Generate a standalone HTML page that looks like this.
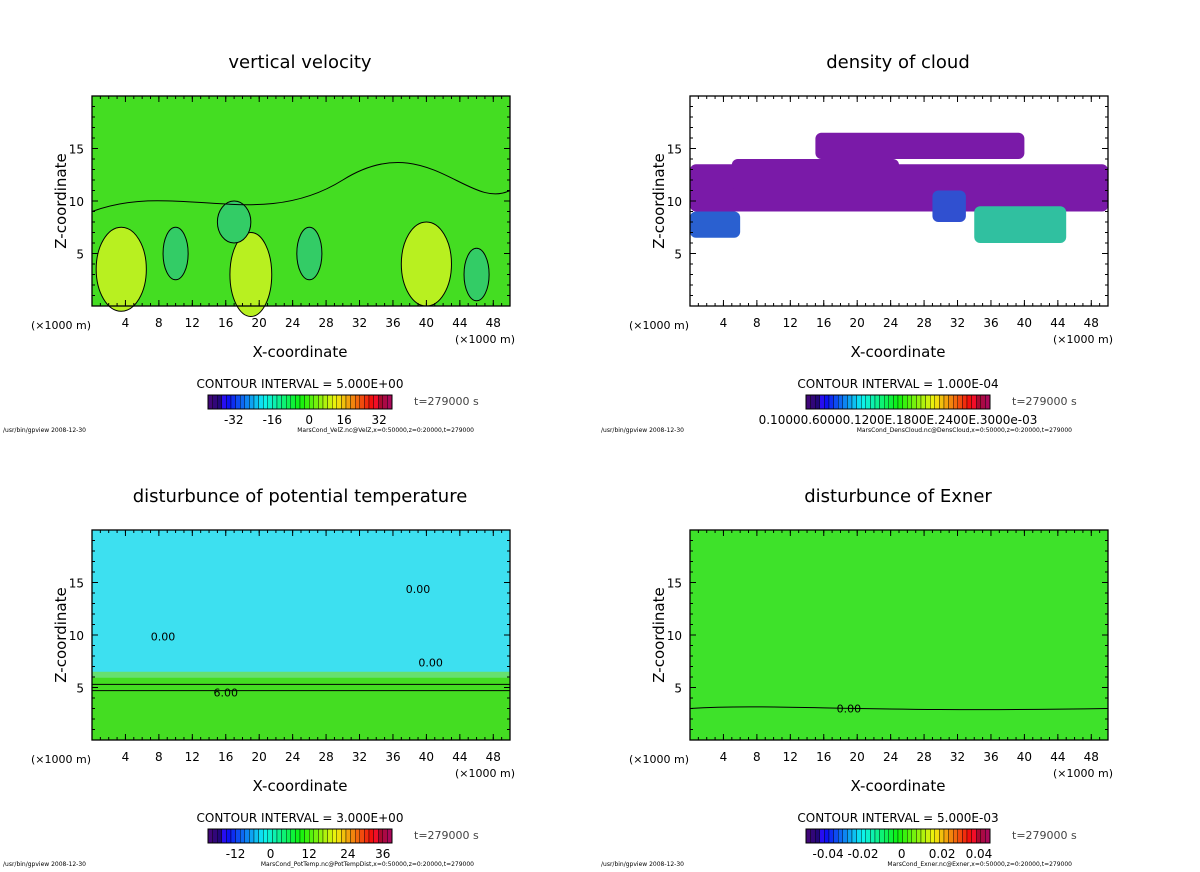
<!DOCTYPE html>
<html><head><meta charset="utf-8"><style>
body{margin:0;background:#fff;width:1200px;height:868px;overflow:hidden;font-family:"DejaVu Sans","Liberation Sans",sans-serif}
svg text{font-family:"DejaVu Sans","Liberation Sans",sans-serif}
</style></head><body>
<svg id="s" width="1200" height="868" xmlns="http://www.w3.org/2000/svg"></svg>
<script>
const xTicks=[4,8,12,16,20,24,28,32,36,40,44,48];
const zTicks=[5,10,15];
const titles=["vertical velocity","density of cloud","disturbunce of potential temperature","disturbunce of Exner"];
const intervals=["CONTOUR INTERVAL = 5.000E+00","CONTOUR INTERVAL = 1.000E-04","CONTOUR INTERVAL = 3.000E+00","CONTOUR INTERVAL = 5.000E-03"];
const cbLabels=[["-32","-16","0","16","32"],["0.10000.60000.1200E.1800E.2400E.3000e-03"],["-12","0","12","24","36"],["-0.04","-0.02","0","0.02","0.04"]];
const cbLabelPos=[[0.14,0.35,0.55,0.74,0.93],[0.5],[0.15,0.34,0.55,0.76,0.95],[0.12,0.31,0.52,0.74,0.94]];
const files=["MarsCond_VelZ.nc@VelZ,x=0:50000,z=0:20000,t=279000","MarsCond_DensCloud.nc@DensCloud,x=0:50000,z=0:20000,t=279000","MarsCond_PotTemp.nc@PotTempDist,x=0:50000,z=0:20000,t=279000","MarsCond_Exner.nc@Exner,x=0:50000,z=0:20000,t=279000"];
// velocity blobs: x km, z km, rx, rz, color
const velBlobX=[3.5,19,40,10,26,46,17];
const velBlobZ=[3.5,3,4,5,5,3,8];
const velBlobRX=[3,2.5,3,1.5,1.5,1.5,2];
const velBlobRZ=[4,4,4,2.5,2.5,2.5,2];
const velBlobC=["#b8f020","#b8f020","#b8f020","#33cc66","#33cc66","#33cc66","#33cc66"];
// cloud bands: x0,x1,z0,z1,color
const cloudX0=[0,15,0,5,37,0,29,34];
const cloudX1=[50,40,50,25,50,6,33,45];
const cloudZ0=[9,14,11,11,9.5,6.5,8,6];
const cloudZ1=[12.5,16.5,13.5,14,12,9,11,9.5];
const cloudC=["#7a1aa8","#7a1aa8","#7a1aa8","#7a1aa8","#7a1aa8","#2a60d0","#3050d0","#30c0a0"];
const ns="http://www.w3.org/2000/svg";
const S=document.getElementById('s');
function el(t,a,p){const e=document.createElementNS(ns,t);for(const k in a)e.setAttribute(k,a[k]);(p||S).appendChild(e);return e;}
function txt(x,y,s,size,anchor,p){const t=el('text',{x:x,y:y,'font-size':size,'text-anchor':anchor||'middle',fill:'#000'},p);t.textContent=s;return t;}
const panels=[[92,96],[690,96],[92,530],[690,530]];
const W=418,H=210;
function rainbow(i,n){const h=270-300*i/(n-1);return `hsl(${(h+360)%360},90%,${i<3?25:i>n-4?35:50}%)`;}
panels.forEach((p,k)=>{
 const [X,Y]=p;
 const g=el('g',{});
 
 
 const sx=v=>X+v*W/50, sz=v=>Y+H-v*H/20;
 const bg=["#44dd22","#ffffff","#3de0f0","#3ee22a"][k];
 const r=el('rect',{x:X,y:Y,width:W,height:H,fill:bg},g);
 
 
 if(k===0){
  velBlobX.forEach((bx,i)=>{const e=el('ellipse',{cx:sx(bx),cy:sz(velBlobZ[i]),rx:velBlobRX[i]*W/50,ry:velBlobRZ[i]*H/20,fill:velBlobC[i],stroke:'#000','stroke-width':1},g);
  
  });
  el('path',{d:`M${sx(0)} ${sz(9)} C${sx(10)} ${sz(12)},${sx(20)} ${sz(7)},${sx(30)} ${sz(12)} S${sx(45)} ${sz(9)},${sx(50)} ${sz(11)}`,fill:'none',stroke:'#000'},g);
 }
 if(k===1){
  cloudX0.forEach((x0,i)=>{const e=el('rect',{x:sx(x0),y:sz(cloudZ1[i]),width:sx(cloudX1[i])-sx(x0),height:sz(cloudZ0[i])-sz(cloudZ1[i]),fill:cloudC[i],rx:6},g);
  
  });
 }
 if(k===2){
  el('rect',{x:X,y:sz(6),width:W,height:sz(0)-sz(6),fill:'#44dd22'},g);
  el('rect',{x:X,y:sz(6.5),width:W,height:6,fill:'#66e070'},g);
  [4.7,5.3].forEach(z=>el('line',{x1:X,x2:X+W,y1:sz(z),y2:sz(z),stroke:'#000'},g));
  txt(sx(16),sz(5.3)+12,'6.00',11,'middle',g);txt(sx(8.5),sz(9.5),'0.00',11,'middle',g);txt(sx(39),sz(14),'0.00',11,'middle',g);txt(sx(40.5),sz(7),'0.00',11,'middle',g);
 }
 if(k===3){
  el('path',{d:`M${X} ${sz(3)} C${sx(10)} ${sz(3.5)},${sx(20)} ${sz(2.6)},${sx(50)} ${sz(3)}`,fill:'none',stroke:'#000'},g);
  txt(sx(19),sz(3)+4,'0.00',11,'middle',g);
 }
 el('rect',{x:X,y:Y,width:W,height:H,fill:'none',stroke:'#000','stroke-width':1.3},g);
 xTicks.forEach(t=>{el('line',{x1:sx(t),x2:sx(t),y1:Y+H,y2:Y+H-6,stroke:'#000'},g);el('line',{x1:sx(t),x2:sx(t),y1:Y,y2:Y+6,stroke:'#000'},g);txt(sx(t),Y+H+21,String(t),12,'middle',g);});
 for(let t=1;t<50;t++){el('line',{x1:sx(t),x2:sx(t),y1:Y+H,y2:Y+H-3,stroke:'#000'},g);el('line',{x1:sx(t),x2:sx(t),y1:Y,y2:Y+3,stroke:'#000'},g);}
 for(let t=1;t<20;t++){const l=zTicks.includes(t)?6:3;el('line',{x1:X,x2:X+l,y1:sz(t),y2:sz(t),stroke:'#000'},g);el('line',{x1:X+W,x2:X+W-l,y1:sz(t),y2:sz(t),stroke:'#000'},g);}
 zTicks.forEach(t=>txt(X-8,sz(t)+5,String(t),12,'end',g));
 txt(X-61,Y+H+23,'(×1000 m)',11,'start',g);
 txt(X+W-55,Y+H+37,'(×1000 m)',11,'start',g);
 const xt=txt(X+208,Y+H+51,'X-coordinate',15,'middle',g);
 
 
 const yt=txt(0,0,'Z-coordinate',15,'middle',g);yt.setAttribute('transform',`translate(${X-26},${Y+105}) rotate(-90)`);
 
 
 const tt=txt(X+208,Y-28,titles[k],18,'middle',g);
 
 
 txt(X+208,Y+292,intervals[k],12,'middle',g);
 const cx=X+116,cy=Y+299,cw=184,ch=14,n=40;
 for(let i=0;i<n;i++){el('rect',{x:cx+i*cw/n,y:cy,width:cw/n,height:ch,fill:rainbow(i,n),stroke:'#000','stroke-width':0.4},g);}
 el('rect',{x:cx,y:cy,width:cw,height:ch,fill:'none',stroke:'#000'},g);
 cbLabels[k].forEach((l,i)=>txt(cx+cw*cbLabelPos[k][i],cy+29,l,12,'middle',g));
 txt(X+322,Y+309,'t=279000 s',11,'start',g).setAttribute('fill','#444');
 txt(X-89,Y+336,'/usr/bin/gpview  2008-12-30',6,'start',g);
 txt(X+382,Y+336,files[k],6,'end',g);
});
</script></body></html>
